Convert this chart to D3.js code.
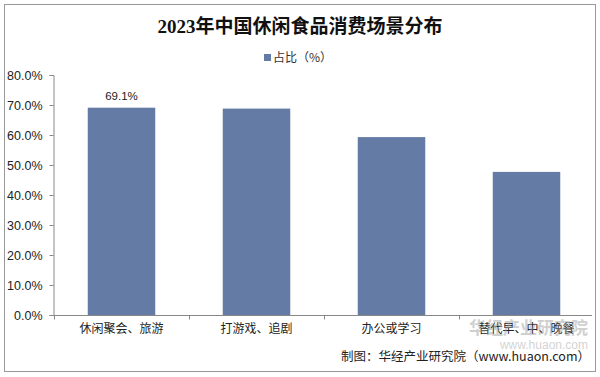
<!DOCTYPE html>
<html><head><meta charset="utf-8">
<script src="https://cdn.jsdelivr.net/npm/d3@7"></script>
<style>body{margin:0;background:#fff}svg{display:block}</style>
</head><body>
<script>
const categories = ["休闲聚会、旅游","打游戏、追剧","办公或学习","替代早、中、晚餐"];
const values = [69.1, 68.8, 59.3, 47.7];
const yTicks = [0,10,20,30,40,50,60,70,80];
const title = "2023年中国休闲食品消费场景分布";
const legendLabel = "占比（%）";
const source = "制图：华经产业研究院（www.huaon.com）";

const W=600,H=377;
const svg=d3.select("body").append("svg").attr("width",W).attr("height",H);
svg.append("rect").attr("x",4.5).attr("y",4.5).attr("width",591).attr("height",367).attr("fill","#fff").attr("stroke","#999");

const x=d3.scaleBand().domain(categories).range([54,594]).paddingInner(0.5).paddingOuter(0.25);
const y=d3.scaleLinear().domain([0,80]).range([315,75]);

svg.append("text").attr("x",300).attr("y",33).attr("text-anchor","middle")
 .attr("font-family","'Liberation Serif','Noto Sans CJK SC',serif").attr("font-weight","bold").attr("font-size",19).attr("fill","#111").text(title);

// legend
svg.append("rect").attr("x",264).attr("y",54).attr("width",7).attr("height",7).attr("fill","#647ba5");
svg.append("text").attr("x",273).attr("y",62).attr("font-family","'Noto Sans CJK SC',sans-serif").attr("font-size",12).attr("fill","#333").text(legendLabel);

// y axis
const ya=svg.append("g").attr("transform","translate(53.5,0)")
 .call(d3.axisLeft(y).tickValues(yTicks).tickSize(4).tickPadding(7).tickFormat(d=>d.toFixed(1)+"%"));
ya.selectAll("path,line").attr("stroke","#888");
ya.selectAll("text").attr("font-family","'Liberation Sans',Arial,sans-serif").attr("font-size",12.5).attr("fill","#222");

// x axis
const xa=svg.append("g").attr("transform","translate(0,315.5)");
xa.append("line").attr("x1",53.5).attr("x2",592).attr("stroke","#888");
const bounds=categories.map((c,i)=>x(c)-x.step()*x.paddingInner()/2);
bounds.push(x(categories[categories.length-1])+x.bandwidth()+x.step()*x.paddingInner()/2);
xa.selectAll("line.t").data(bounds.slice(0,4)).join("line").attr("class","t")
 .attr("x1",d=>Math.round(d)+0.5).attr("x2",d=>Math.round(d)+0.5).attr("y1",0).attr("y2",4).attr("stroke","#888");

// bars
svg.selectAll("rect.bar").data(values).join("rect").attr("class","bar")
 .attr("x",(d,i)=>x(categories[i])).attr("width",x.bandwidth())
 .attr("y",d=>y(d)).attr("height",d=>y(0)-y(d)).attr("fill","#647ba5");

// data label
svg.append("text").attr("x",x(categories[0])+x.bandwidth()/2).attr("y",y(values[0])-8).attr("text-anchor","middle")
 .attr("font-family","'Liberation Sans',Arial,sans-serif").attr("font-size",11.5).attr("fill","#222").text(values[0].toFixed(1)+"%");

// category labels
svg.selectAll("text.cat").data(categories).join("text").attr("class","cat")
 .attr("x",d=>x(d)+x.bandwidth()/2).attr("y",333).attr("text-anchor","middle")
 .attr("font-family","'Noto Sans CJK SC',sans-serif").attr("font-size",12).attr("fill","#222").text(d=>d);

// watermark
svg.append("text").attr("x",588).attr("y",334).attr("text-anchor","end").attr("font-family","'Noto Sans CJK SC',sans-serif")
 .attr("font-size",17).attr("font-weight","bold").attr("fill","#999").attr("opacity",0.45).text("华经产业研究院");
svg.append("text").attr("x",588).attr("y",349).attr("text-anchor","end").attr("font-family","'Liberation Sans',Arial,sans-serif")
 .attr("font-size",12).attr("fill","#aaa").attr("opacity",0.5).text("www.huaon.com");

// source
svg.append("text").attr("x",590).attr("y",361).attr("text-anchor","end")
 .attr("font-family","'Noto Sans CJK SC',sans-serif").attr("font-size",12.5).attr("fill","#222").text(source);
</script>
</body></html>
